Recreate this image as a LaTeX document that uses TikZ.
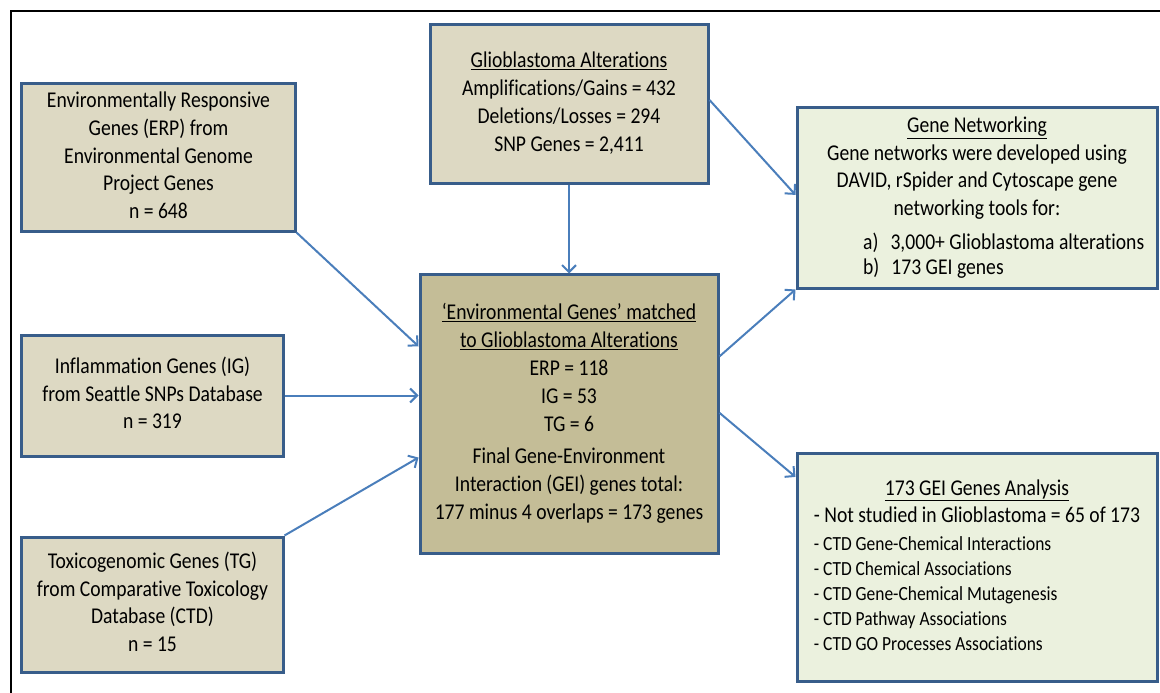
\documentclass[tikz,border=0pt]{standalone}
\usepackage{fontspec}
\setmainfont{Carlito}[RawFeature={-liga;-clig;-calt}]
\usepackage{graphicx}
\usetikzlibrary{arrows.meta,calc}

\definecolor{boxline}{HTML}{385D8A}
\definecolor{arrowblue}{HTML}{4A7EBB}
\definecolor{srcfill}{HTML}{DDD9C3}
\definecolor{midfill}{HTML}{C4BD97}
\definecolor{outfill}{HTML}{EBF1DE}

% Calibri-like text is drawn slightly taller than wide
\newcommand{\tallText}[1]{\scalebox{1}[1.15]{#1}}
\newcommand{\lines}[1]{\tallText{\begin{tabular}{@{}c@{}}#1\end{tabular}}}

\tikzset{
  panel/.style={draw=boxline, line width=3bp, inner sep=0pt,
    font=\fontsize{19.7}{24.3}\selectfont},
  srcbox/.style={panel, fill=srcfill},
  midbox/.style={panel, fill=midfill},
  outbox/.style={panel, fill=outfill},
  flow/.style={draw=arrowblue, line width=2bp,
    -{Straight Barb[length=7bp,width=14bp]}},
}

\begin{document}
\begin{tikzpicture}[x=1bp,y=-1bp]
\useasboundingbox (0,0) rectangle (1160,693);

% page frame
\draw[line width=2.5bp] (11,693) -- (11,11) -- (1160,11);

% source gene sets
\node[srcbox, minimum width=273bp, minimum height=147bp] (erp) at (158.5,157.5)
  {\lines{Environmentally Responsive\\ Genes (ERP) from\\ Environmental Genome\\ Project Genes\\ n = 648}};
\node[srcbox, minimum width=261bp, minimum height=121bp] (ig) at (152.5,395.5)
  {\lines{Inflammation Genes (IG)\\ from Seattle SNPs Database\\ n = 319}};
\node[srcbox, minimum width=261bp, minimum height=135bp] (tg) at (152.5,604.5)
  {\lines{Toxicogenomic Genes (TG)\\ from Comparative Toxicology\\ Database (CTD)\\ n = 15}};
\node[srcbox, minimum width=278bp, minimum height=158bp] (glio) at (569,104)
  {\lines{\underline{Glioblastoma Alterations}\\ Amplifications/Gains = 432\\ Deletions/Losses = 294\\ SNP Genes = 2,411}};

% matched genes
\node[midbox, minimum width=298bp, minimum height=278bp] (ctr) at (569,414)
  {\lines{\underline{‘Environmental Genes’ matched}\\ \underline{to Glioblastoma Alterations}\\
   ERP = 118\\ IG = 53\\ TG = 6\\[4pt]
   Final Gene-Environment\\ Interaction (GEI) genes total:\\ 177 minus 4 overlaps = 173 genes}};

% downstream analyses
\node[outbox, minimum width=360bp, minimum height=180bp] (net) at (977,198)
  {\lines{\underline{Gene Networking}\\ Gene networks were developed using\\
   DAVID, rSpider and Cytoscape gene\\ networking tools for:\\[5pt]
   \multicolumn{1}{@{}l@{}}{\hspace{36bp}\rlap{a)\hspace{12bp}3,000+ Glioblastoma alterations}}\\[-2pt]
   \multicolumn{1}{@{}l@{}}{\hspace{36bp}\rlap{b)\hspace{12bp}173 GEI genes}}}};
\node[outbox, minimum width=360bp, minimum height=228bp] (ana) at (977,567)
  {\tallText{\begin{tabular}{@{}l@{}}
   \multicolumn{1}{@{}c@{}}{\underline{173 GEI Genes Analysis}}\\
   - Not studied in Glioblastoma = 65 of 173\\
   {\fontsize{17.5}{21.7}\selectfont - CTD Gene-Chemical Interactions}\\[-2.6pt]
   {\fontsize{17.5}{21.7}\selectfont - CTD Chemical Associations}\\[-2.6pt]
   {\fontsize{17.5}{21.7}\selectfont - CTD Gene-Chemical Mutagenesis}\\[-2.6pt]
   {\fontsize{17.5}{21.7}\selectfont - CTD Pathway Associations}\\[-2.6pt]
   {\fontsize{17.5}{21.7}\selectfont - CTD GO Processes Associations}
  \end{tabular}}};

% connectors
\draw[flow] (erp.south east) -- ($(ctr.north west)!0.259!(ctr.south west)$);
\draw[flow] (ig.east) -- (ig.east -| ctr.west);
\draw[flow] (tg.north east) -- ($(ctr.north west)!0.655!(ctr.south west)$);
\draw[flow] (glio.south) -- (ctr.north);
\draw[flow] ($(glio.north east)!0.475!(glio.south east)$) -- ($(net.north west)!0.483!(net.south west)$);
\draw[flow] ($(ctr.north east)!0.295!(ctr.south east)$) -- (net.south west);
\draw[flow] ($(ctr.north east)!0.496!(ctr.south east)$) -- ($(ana.north west)!0.11!(ana.south west)$);
\end{tikzpicture}
\end{document}
